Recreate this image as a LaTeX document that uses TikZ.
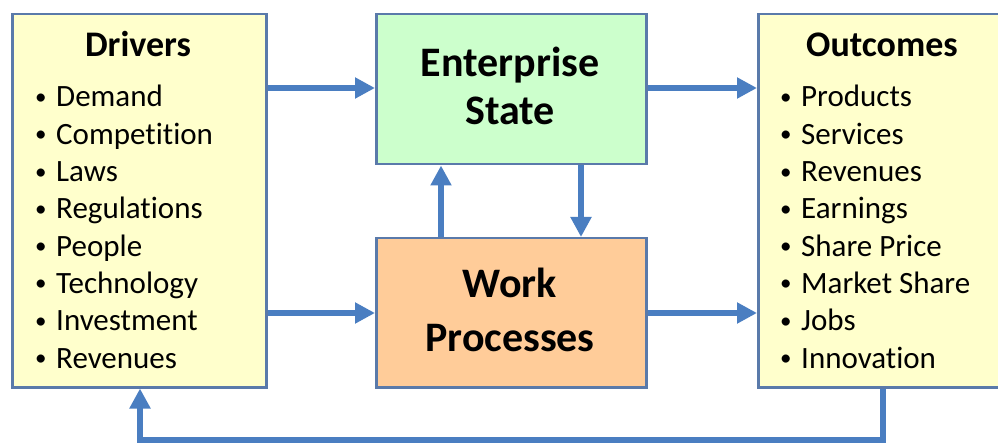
\documentclass[tikz,border=0pt]{standalone}
\usepackage{fontspec}
\setmainfont{Carlito}[Ligatures=NoCommon]
\usetikzlibrary{arrows.meta}
\definecolor{boxline}{RGB}{90,122,170}
\definecolor{flow}{RGB}{74,126,193}
\definecolor{ylw}{RGB}{255,255,204}
\definecolor{grn}{RGB}{204,255,204}
\definecolor{org}{RGB}{255,204,153}
\tikzset{
  panel/.style={draw=boxline, line width=2.5pt, anchor=north west, inner sep=0pt},
  flowarrow/.style={draw=flow, line width=5.5pt, -{Triangle[length=20pt,width=20pt]}},
  ttl/.style={font=\fontsize{36}{40}\selectfont\bfseries, anchor=base, inner sep=0pt},
  big/.style={font=\fontsize{42}{48}\selectfont\bfseries, anchor=base, inner sep=0pt},
  item/.style={font=\fontsize{31}{36}\selectfont, anchor=base west, inner sep=0pt},
}
\newcommand{\bul}[1]{\makebox[21pt][l]{\raisebox{2.5pt}{\fontsize{23}{23}\selectfont•}}#1}
\begin{document}
\begin{tikzpicture}[x=1pt,y=-1pt]
\useasboundingbox (0,0) rectangle (998,443);
\clip (0,0) rectangle (998,443);
% boxes
\node[panel, fill=ylw, minimum width=254pt, minimum height=373pt] (drv) at (11,13) {};
\node[panel, fill=grn, minimum width=270pt, minimum height=150pt] (es) at (375,13) {};
\node[panel, fill=org, minimum width=270pt, minimum height=149pt] (wp) at (375,237) {};
\node[panel, fill=ylw, minimum width=253pt, minimum height=373pt] (out) at (757,13) {};
% titles
\node[ttl] (drvt) at (138,57) {Drivers};
\node[ttl] (outt) at (882,57) {Outcomes};
\node[big] (es1) at (510,77) {Enterprise};
\node[big] (es2) at (510,125) {State};
\node[big] (wp1) at (510,298) {Work};
\node[big] (wp2) at (510,352) {Processes};
% driver items
\node[item] (d1) at (35,107) {\bul{Demand}};
\node[item] (d2) at (35,144.3) {\bul{Competition}};
\node[item] (d3) at (35,181.6) {\bul{Laws}};
\node[item] (d4) at (35,218.9) {\bul{Regulations}};
\node[item] (d5) at (35,256.2) {\bul{People}};
\node[item] (d6) at (35,293.5) {\bul{Technology}};
\node[item] (d7) at (35,330.8) {\bul{Investment}};
\node[item] (d8) at (35,368.1) {\bul{Revenues}};
% outcome items
\node[item] (o1) at (780,107) {\bul{Products}};
\node[item] (o2) at (780,144.3) {\bul{Services}};
\node[item] (o3) at (780,181.6) {\bul{Revenues}};
\node[item] (o4) at (780,218.9) {\bul{Earnings}};
\node[item] (o5) at (780,256.2) {\bul{Share Price}};
\node[item] (o6) at (780,293.5) {\bul{Market Share}};
\node[item] (o7) at (780,330.8) {\bul{Jobs}};
\node[item] (o8) at (780,368.1) {\bul{Innovation}};
% arrows
\draw[flowarrow] (drv.east |- 0,88) -- (es.west |- 0,88);
\draw[flowarrow] (es.east |- 0,88) -- (out.west |- 0,88);
\draw[flowarrow] (drv.east |- 0,313) -- (wp.west |- 0,313);
\draw[flowarrow] (wp.east |- 0,313) -- (out.west |- 0,313);
\draw[flowarrow] (wp.north -| 441,0) -- (es.south -| 441,0);
\draw[flowarrow] (es.south -| 581,0) -- (wp.north -| 581,0);
\coordinate (fbr) at (883,440);
\coordinate (fbl) at (140,440);
\draw[flowarrow] (out.south -| fbr) -- (fbr) -- (fbl) -- (drv.south -| fbl);
\end{tikzpicture}
\end{document}
